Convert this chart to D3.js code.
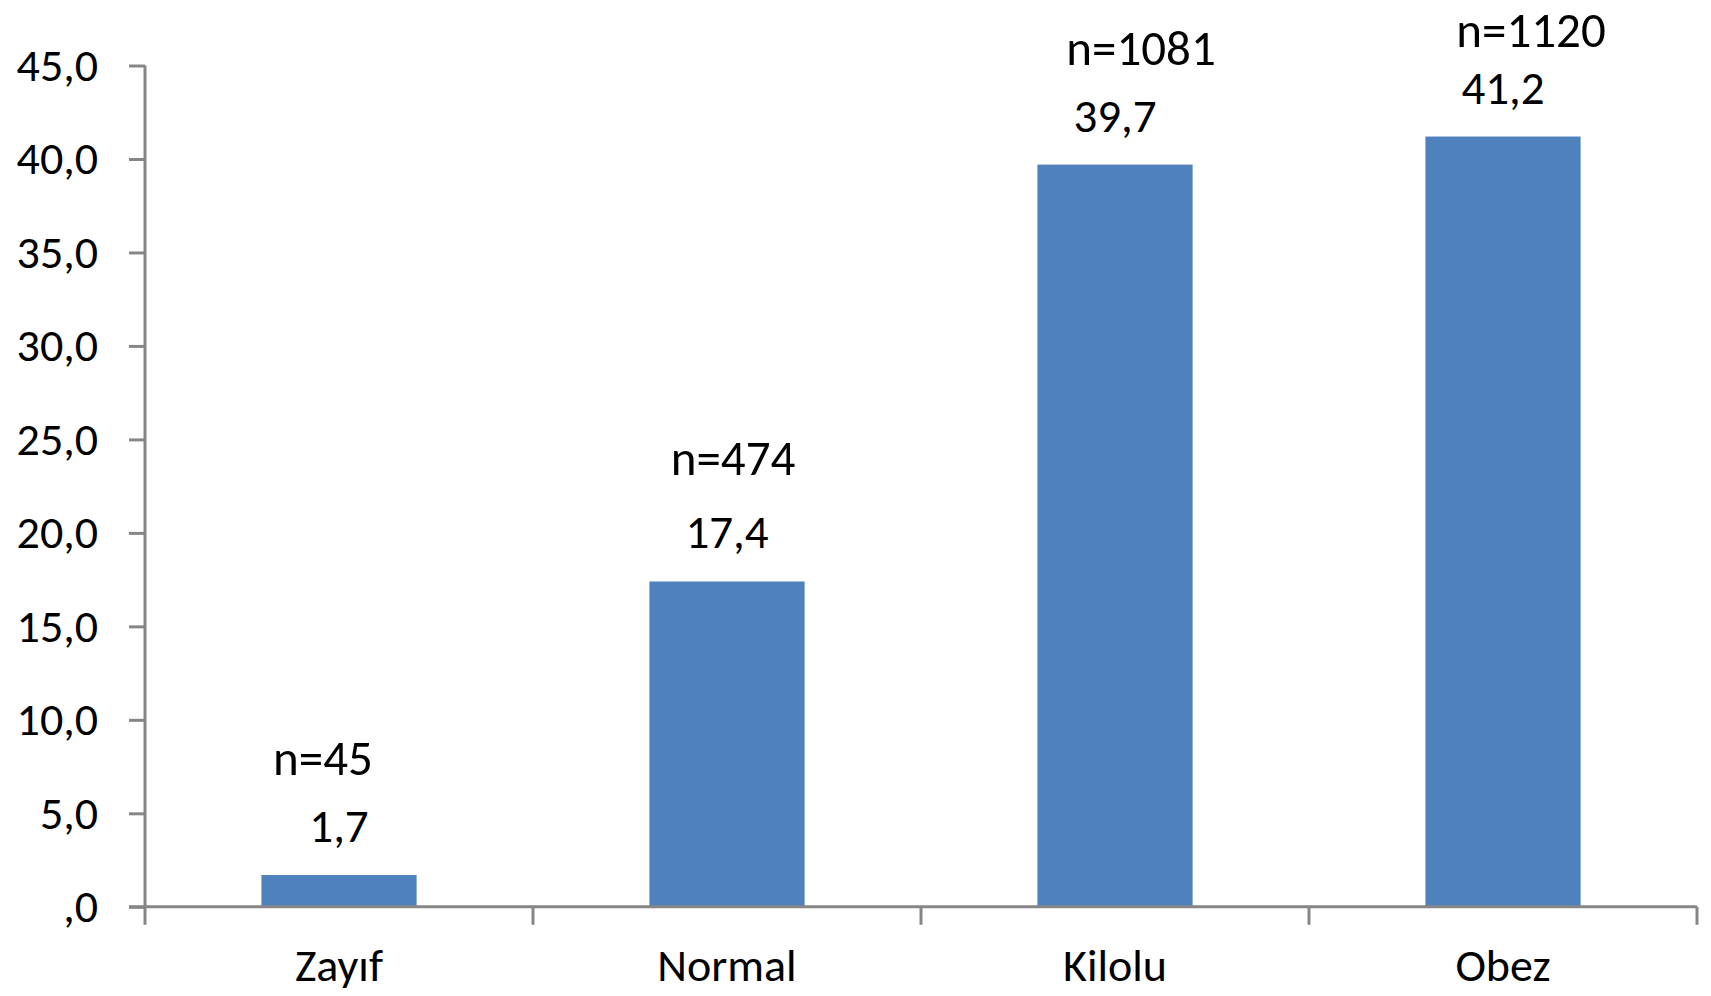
<!DOCTYPE html>
<html>
<head>
<meta charset="utf-8">
<script src="https://cdn.jsdelivr.net/npm/d3@7"></script>
<style>
  html, body { margin: 0; padding: 0; background: #ffffff; }
  svg { display: block; }
  text { font-family: Carlito, Calibri, Lato, sans-serif; fill: #000; }
</style>
</head>
<body>
<svg id="chart" width="1711" height="996"></svg>
<script>
// ---- data ----
const categories = ["Zayıf", "Normal", "Kilolu", "Obez"];
const percents = [1.7, 17.4, 39.7, 41.2];
const counts = [45, 474, 1081, 1120];
const yTicks = [0, 5, 10, 15, 20, 25, 30, 35, 40, 45];

// ---- layout (manual offsets of the n= text boxes relative to bar centre / bar top) ----
const nLabelDx = [-16, 6, 26, 28];
const nLabelDy = [-100, -106, -100, -90];

(function () {
const svg = d3.select("#chart");
const pLeft = 145, pRight = 1697, pTop = 65.5, pBottom = 906.8;
const axisColor = "#868686";
const barColor = "#4f81bd";

const x = d3.scaleBand().domain(categories).range([pLeft, pRight])
  .paddingInner(0.6).paddingOuter(0.3);
const y = d3.scaleLinear().domain([0, 45]).range([pBottom, pTop]);

const loc = d3.formatLocale({decimal: ",", thousands: ".", grouping: [3], currency: ["", ""]});
const f1 = loc.format(".1f");
const tickFmt = v => v === 0 ? ",0" : f1(v);

// bars
svg.append("g").selectAll("rect").data(percents).join("rect")
  .attr("x", (d, i) => x(categories[i]))
  .attr("y", d => y(d))
  .attr("width", x.bandwidth())
  .attr("height", d => y(0) - y(d))
  .attr("fill", barColor);

// y axis
const yAxis = svg.append("g").attr("transform", `translate(${pLeft},0)`)
  .call(d3.axisLeft(y).tickValues(yTicks).tickFormat(tickFmt).tickSize(16).tickPadding(31));
yAxis.select(".domain").attr("stroke", axisColor).attr("stroke-width", 3).attr("d", `M0,${pTop}V${pBottom}`);
yAxis.selectAll(".tick line").attr("stroke", axisColor).attr("stroke-width", 3);
yAxis.selectAll(".tick text").attr("font-size", 46).attr("fill", "#000")
  .style("font-family", "Carlito, Calibri, Lato, sans-serif");

// x axis: line + boundary ticks
const xg = svg.append("g");
xg.append("line").attr("x1", pLeft - 16).attr("x2", pRight).attr("y1", y(0)).attr("y2", y(0))
  .attr("stroke", axisColor).attr("stroke-width", 3);
xg.selectAll("line.bt").data(d3.range(categories.length + 1)).join("line")
  .attr("class", "bt")
  .attr("x1", i => pLeft + i * x.step()).attr("x2", i => pLeft + i * x.step())
  .attr("y1", y(0)).attr("y2", y(0) + 18)
  .attr("stroke", axisColor).attr("stroke-width", 3);
xg.selectAll("text.cat").data(categories).join("text")
  .attr("class", "cat")
  .attr("x", d => x(d) + x.bandwidth() / 2)
  .attr("y", 981)
  .attr("text-anchor", "middle")
  .attr("font-size", 46)
  .text(d => d);

// value labels
svg.append("g").selectAll("text").data(percents).join("text")
  .attr("x", (d, i) => x(categories[i]) + x.bandwidth() / 2)
  .attr("y", d => y(d) - 33)
  .attr("text-anchor", "middle")
  .attr("font-size", 47)
  .text(d => f1(d));

// n labels
svg.append("g").selectAll("text").data(counts).join("text")
  .attr("x", (d, i) => x(categories[i]) + x.bandwidth() / 2 + nLabelDx[i])
  .attr("y", (d, i) => y(percents[i]) + nLabelDy[i])
  .attr("text-anchor", "middle")
  .attr("font-size", 49)
  .text(d => "n=" + d);
})();
</script>
</body>
</html>
